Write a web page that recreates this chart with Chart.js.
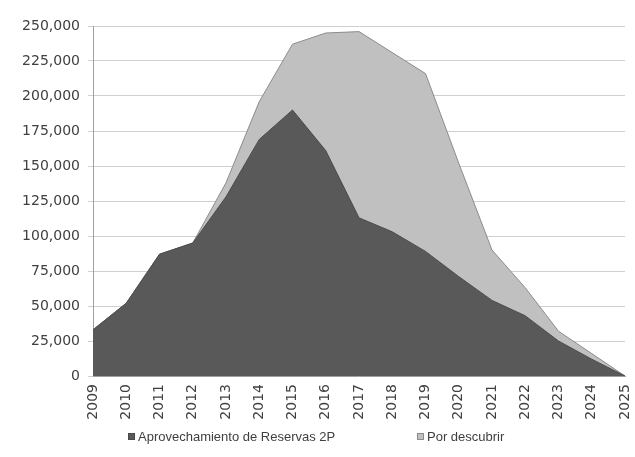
<!DOCTYPE html>
<html>
<head>
<meta charset="utf-8">
<script src="https://cdn.jsdelivr.net/npm/chart.js@4/dist/chart.umd.min.js"></script>
<style>
  body { margin: 0; background: #fff; }
  #wrap { position: relative; width: 635px; height: 457px; }
  #legend { position: absolute; left: 0; top: 429px; width: 635px; height: 20px;
            font-family: "Liberation Sans", Arial, sans-serif; font-size: 13px; color: #404040; }
  .item { position: absolute; top: 0; white-space: nowrap; }
  .box { display: inline-block; width: 7px; height: 7px; margin-right: 3px; vertical-align: 1px; }
</style>
</head>
<body>
<div id="wrap">
  <canvas id="chart" width="635" height="457"></canvas>
  <div id="legend"></div>
</div>
<script>
// años (eje x)
const years = ["2009", "2010", "2011", "2012", "2013", "2014", "2015", "2016", "2017",
  "2018", "2019", "2020", "2021", "2022", "2023", "2024", "2025"];
// Aprovechamiento de Reservas 2P
const reservas2P = [33000, 52000, 87000, 95000, 128000, 169000, 190000, 161000, 113000,
  103000, 89000, 71000, 54000, 43000, 25000, 12000, 0];
// Por descubrir (apilado encima)
const porDescubrir = [0, 0, 0, 0, 10000, 27000, 47000, 84000, 133000,
  128000, 127000, 81000, 36000, 20000, 7000, 4000, 0];
// etiquetas del eje y
const yTicks = [0, 25000, 50000, 75000, 100000, 125000, 150000, 175000, 200000, 225000, 250000];

const labelFont = { family: "DejaVu Sans", size: 14 };

const chart = new Chart(document.getElementById("chart"), {
  type: "line",
  data: {
    labels: years,
    datasets: [
      {
        label: "Aprovechamiento de Reservas 2P",
        data: reservas2P,
        backgroundColor: "#595959",
        borderColor: "#4a4a4a",
        borderWidth: 1,
        pointRadius: 0,
        fill: "origin",
      },
      {
        label: "Por descubrir",
        data: porDescubrir,
        backgroundColor: "#c0c0c0",
        borderColor: "#8c8c8c",
        borderWidth: 1,
        pointRadius: 0,
        fill: "-1",
      },
    ],
  },
  options: {
    responsive: false,
    animation: false,
    layout: { padding: { top: 26, right: 0, left: 0, bottom: 0 } },
    plugins: { legend: { display: false }, tooltip: { enabled: false } },
    scales: {
      x: {
        offset: false,
        grid: { display: false, drawTicks: true, tickLength: 5 },
        border: { color: "#a0a0a0" },
        ticks: { font: labelFont, color: "#404040", minRotation: 90, maxRotation: 90, autoSkip: false, padding: 3 },
        afterFit: (s) => {
          s.height = 81;
          // el área llega casi al borde derecho
          s.paddingLeft = 0;
          s.paddingRight = 10;
        },
      },
      y: {
        stacked: true,
        min: 0,
        max: 250000,
        afterBuildTicks: (s) => { s.ticks = yTicks.map((v) => ({ value: v })); },
        grid: { color: "#cfcfcf", tickLength: 5 },
        border: { color: "#a0a0a0" },
        ticks: {
          font: labelFont,
          color: "#404040",
          padding: 8,
          callback: (v) => v.toLocaleString("en-US"),
        },
        afterFit: (s) => { s.width = 93; },
      },
    },
  },
});

// leyenda
const legend = document.getElementById("legend");
const legendX = [128, 417];
chart.data.datasets.forEach((ds, i) => {
  const item = document.createElement("span");
  item.className = "item";
  item.style.left = legendX[i] + "px";
  item.innerHTML = `<span class="box" style="background:${ds.backgroundColor};border:1px solid ${ds.borderColor};box-sizing:border-box"></span>${ds.label}`;
  legend.appendChild(item);
});
</script>
</body>
</html>
